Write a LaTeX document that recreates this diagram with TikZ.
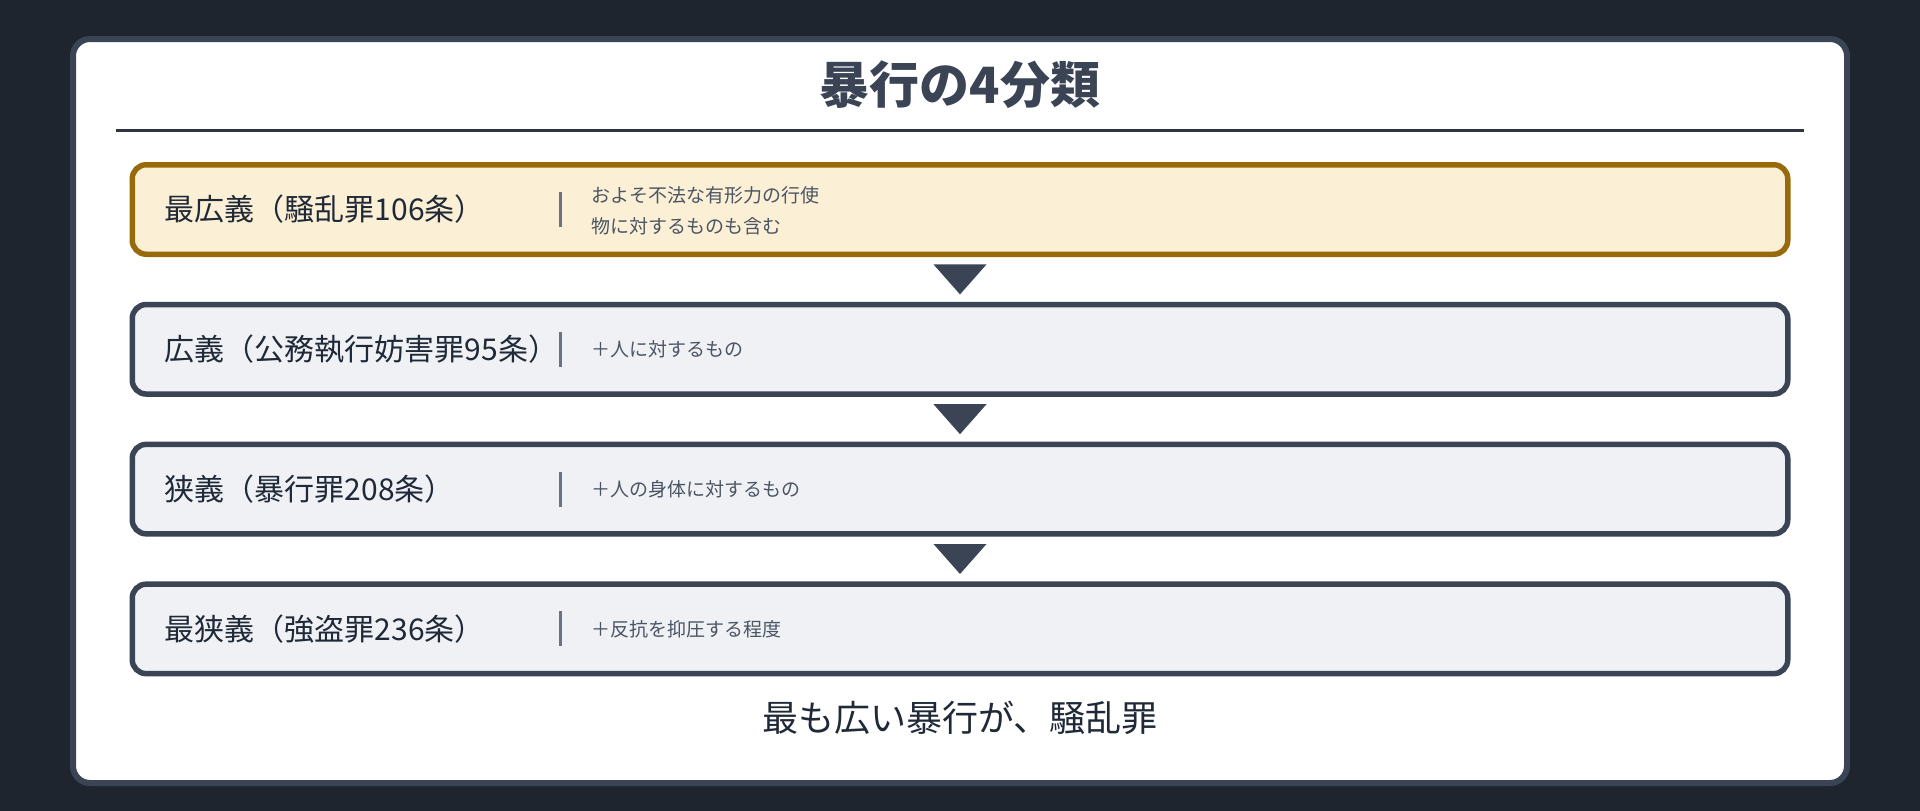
\documentclass[tikz,border=0pt]{standalone}
\usepackage{fontspec}
\setmainfont{Noto Sans CJK JP}
\usetikzlibrary{positioning, calc}

\definecolor{bgDark}{HTML}{1E252F}
\definecolor{slate}{HTML}{3A4455}
\definecolor{ruleDark}{HTML}{2D3340}
\definecolor{ink}{HTML}{1F2937}
\definecolor{muted}{HTML}{4B5563}
\definecolor{sepGray}{HTML}{6B7280}
\definecolor{cream}{HTML}{FBEFD5}
\definecolor{gold}{HTML}{976A0C}
\definecolor{paleGray}{HTML}{EFF1F5}

\begin{document}
\begin{tikzpicture}[%
    x=1pt, y=-1pt,              % pixel grid, y grows downwards
    node distance=139.8pt,      % pitch of the boxes
    ]

\tikzset{
  box/.style={draw=slate, fill=paleGray, line width=5.5pt, rounded corners=14pt, on grid,
              minimum width=1655.5pt, minimum height=89.5pt, inner sep=0pt},
  topbox/.style={box, draw=gold, fill=cream},
  lbl/.style={anchor=west, inner sep=0pt, text=ink, font=\fontsize{30}{36}\selectfont},
  desc/.style={anchor=west, inner sep=0pt, align=left, text=muted, font=\fontsize{19}{31}\selectfont},
  bar/.style={fill=sepGray, inner sep=0pt, minimum width=3pt, minimum height=35pt},
  tri/.style={fill=slate}
  };

% BACKGROUND and panel
\useasboundingbox (0,0) rectangle (1920,811);
\fill[bgDark] (0,0) rectangle (1920,811);
\draw[slate, line width=6pt, fill=white, rounded corners=17pt] (73,39) rectangle (1847,783);

% TITLE
\node[text=slate, font=\fontsize{50}{60}\selectfont\bfseries] (title) at (960,85) {暴行の4分類};
\coordinate (ruleL) at (116,130.5);
\coordinate (ruleR) at (1804,130.5);
\draw[ruleDark, line width=3pt] (ruleL) -- (ruleR);

% BOXES
\node[topbox] (riot) at (960,209.5) {};

\node[box, below=of riot] (obstruct) {};

\node[box, below=of obstruct] (assault) {};

\node[box, below=of assault] (robbery) {};

% labels
\node[lbl] (riotLbl) at ([xshift=35pt]riot.west) {最広義（騒乱罪106条）};
\node[lbl] (obstructLbl) at ([xshift=35pt]obstruct.west) {広義（公務執行妨害罪95条）};
\node[lbl] (assaultLbl) at ([xshift=35pt]assault.west) {狭義（暴行罪208条）};
\node[lbl] (robberyLbl) at ([xshift=35pt]robbery.west) {最狭義（強盗罪236条）};

% separators
\node[bar] (riotBar) at ([xshift=431pt]riot.west) {};
\node[bar] (obstructBar) at ([xshift=431pt]obstruct.west) {};
\node[bar] (assaultBar) at ([xshift=431pt]assault.west) {};
\node[bar] (robberyBar) at ([xshift=431pt]robbery.west) {};

% descriptions
\node[desc] (riotTxt) at ([xshift=462pt, yshift=-1pt]riot.west) {およそ不法な有形力の行使\\物に対するものも含む};
\node[desc] (obstructTxt) at ([xshift=462pt]obstruct.west) {＋人に対するもの};
\node[desc] (assaultTxt) at ([xshift=462pt]assault.west) {＋人の身体に対するもの};
\node[desc] (robberyTxt) at ([xshift=462pt]robbery.west) {＋反抗を抑圧する程度};

% arrows between the boxes
\fill[tri] ($(riot.south)!.5!(obstruct.north)$) ++(-26.5,-15) -- ++(53,0) -- ++(-26.5,30) -- cycle;
\fill[tri] ($(obstruct.south)!.5!(assault.north)$) ++(-26.5,-15) -- ++(53,0) -- ++(-26.5,30) -- cycle;
\fill[tri] ($(assault.south)!.5!(robbery.north)$) ++(-26.5,-15) -- ++(53,0) -- ++(-26.5,30) -- cycle;

% SUMMARY
\node[text=ink, font=\fontsize{36}{42}\selectfont] (summary) at (960,718) {最も広い暴行が、騒乱罪};

\end{tikzpicture}
\end{document}
